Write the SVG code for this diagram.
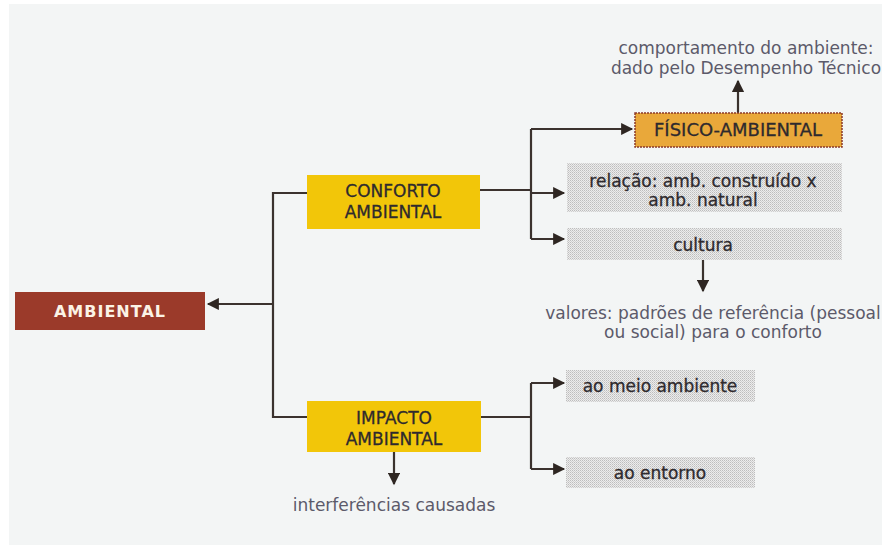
<svg xmlns="http://www.w3.org/2000/svg" width="882" height="548" viewBox="0 0 882 548">
<defs>
<pattern id="dots" width="2" height="2" patternUnits="userSpaceOnUse">
<rect width="2" height="2" fill="#ececec"/>
<rect width="1" height="1" fill="#bdbdbd"/>
<rect x="1" y="1" width="1" height="1" fill="#d0d0d0"/>
</pattern>
<marker id="ah" viewBox="0 0 10 10" refX="9" refY="5" markerWidth="6" markerHeight="5.5" orient="auto" markerUnits="strokeWidth">
<path d="M0,0 L10,5 L0,10 z" fill="#2e2622"/>
</marker>
</defs>
<style>
.bg{fill:#f3f5f5}
.ln{fill:none;stroke:#3b322e;stroke-width:2.2}
.t{font-family:"DejaVu Sans",Verdana,sans-serif;font-size:17px;text-anchor:middle}
.dk{fill:#2e2a2e;stroke:#2e2a2e;stroke-width:0.3}
.gy{fill:#5c5a6a;font-size:17px}
.wh{fill:#fbf3e6;font-weight:bold;font-size:16px;letter-spacing:1px}
.yel{fill:#f2c609}
.gbox{fill:url(#dots)}
</style>
<rect class="bg" x="9" y="4" width="873" height="541"/>
<g id="connectors">
<path class="ln" d="M273,304 L208,304" marker-end="url(#ah)"/>
<path class="ln" d="M307,193 L273,193 L273,417 L307,417"/>
<path class="ln" d="M480,190 L531,190"/>
<path class="ln" d="M531,129 L531,239"/>
<path class="ln" d="M531,129 L632,129" marker-end="url(#ah)"/>
<path class="ln" d="M531,193 L564,193" marker-end="url(#ah)"/>
<path class="ln" d="M531,239 L564,239" marker-end="url(#ah)"/>
<path class="ln" d="M738,113 L738,81" marker-end="url(#ah)"/>
<path class="ln" d="M703,260 L703,291" marker-end="url(#ah)"/>
<path class="ln" d="M481,417 L531,417"/>
<path class="ln" d="M531,383 L531,469"/>
<path class="ln" d="M531,383 L564,383" marker-end="url(#ah)"/>
<path class="ln" d="M531,469 L564,469" marker-end="url(#ah)"/>
<path class="ln" d="M394,452 L394,484" marker-end="url(#ah)"/>
</g>
<g id="ambiental">
<rect x="15" y="292" width="190" height="38" fill="#9b3a2a"/>
<text class="t wh" x="110" y="317">AMBIENTAL</text>
</g>
<g id="conforto">
<rect class="yel" x="307" y="175" width="173" height="54"/>
<text class="t dk" x="393" y="197">CONFORTO</text>
<text class="t dk" x="393" y="218">AMBIENTAL</text>
</g>
<g id="impacto">
<rect class="yel" x="307" y="401" width="174" height="51"/>
<text class="t dk" x="394" y="424">IMPACTO</text>
<text class="t dk" x="394" y="445">AMBIENTAL</text>
</g>
<g id="fisico">
<rect x="635" y="113" width="207" height="34" fill="#e9a83a" stroke="#8a3a2a" stroke-width="1.5" stroke-dasharray="2 1"/>
<text class="t dk" x="738" y="136" style="font-size:18px">FÍSICO-AMBIENTAL</text>
</g>
<g id="comportamento">
<text class="t gy" x="746" y="54">comportamento do ambiente:</text>
<text class="t gy" x="746" y="74">dado pelo Desempenho Técnico</text>
</g>
<g id="relacao">
<rect class="gbox" x="567" y="163" width="275" height="49"/>
<text class="t dk" x="703" y="187">relação: amb. construído x</text>
<text class="t dk" x="703" y="206">amb. natural</text>
</g>
<g id="cultura">
<rect class="gbox" x="567" y="228" width="275" height="32"/>
<text class="t dk" x="703" y="251">cultura</text>
</g>
<g id="valores">
<text class="t gy" x="713" y="319">valores: padrões de referência (pessoal</text>
<text class="t gy" x="713" y="338">ou social) para o conforto</text>
</g>
<g id="meio">
<rect class="gbox" x="566" y="370" width="189" height="32"/>
<text class="t dk" x="660" y="392">ao meio ambiente</text>
</g>
<g id="entorno">
<rect class="gbox" x="566" y="457" width="189" height="31"/>
<text class="t dk" x="660" y="479">ao entorno</text>
</g>
<g id="interferencias">
<text class="t gy" x="394" y="511">interferências causadas</text>
</g>
</svg>
